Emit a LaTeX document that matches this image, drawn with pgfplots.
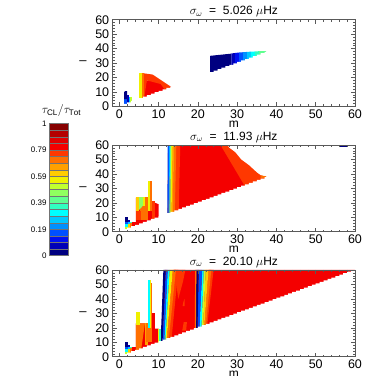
\documentclass[border=0pt]{standalone}
\usepackage{pgfplots}
\usepackage{pgfplotstable}
\usepackage{fontspec}
\setmainfont{Liberation Sans}
\pgfplotsset{compat=1.18}
\definecolor{c0}{HTML}{000080}\definecolor{c1}{HTML}{0000B8}\definecolor{c2}{HTML}{0010F0}\definecolor{c3}{HTML}{0050FF}
\definecolor{c4}{HTML}{0090FF}\definecolor{c5}{HTML}{00C8FF}\definecolor{c6}{HTML}{00FFFF}\definecolor{c7}{HTML}{30FFC0}
\definecolor{c8}{HTML}{60FF90}\definecolor{c9}{HTML}{90FF60}\definecolor{c10}{HTML}{C0FF30}\definecolor{c11}{HTML}{F0F000}
\definecolor{c12}{HTML}{FFCC00}\definecolor{c13}{HTML}{FFA000}\definecolor{c14}{HTML}{FF7000}\definecolor{c15}{HTML}{FF3800}
\definecolor{c16}{HTML}{F40000}\definecolor{c17}{HTML}{E00000}\definecolor{c18}{HTML}{B40000}\definecolor{c19}{HTML}{860000}
\newcommand\Q[2]{\addplot[fill=#1,draw=none] coordinates {#2} --cycle;}
\newcommand\B[2]{\addplot[fill=c#1,draw=black!55,line width=0.25pt] coordinates {#2} --cycle;}
\pgfplotstableread{
m y
1 1.8
2 2.8
3 3.8
4 4.8
5 5.8
6 6.8
7 7.8
8 8.8
9 9.8
10 10.8
11 11.8
12 12.8
13 13.8
14 14.8
15 15.8
16 16.8
17 17.8
18 18.8
19 19.8
20 20.8
21 21.8
22 22.8
23 23.8
24 24.8
25 25.8
26 26.8
27 27.8
28 28.8
29 29.8
30 30.8
31 31.8
32 32.8
33 33.8
34 34.8
35 35.8
36 36.8
37 37.8
38 38.8
39 39.8
40 40.8
41 41.8
42 42.8
43 43.8
44 44.8
45 45.8
46 46.8
47 47.8
48 48.8
49 49.8
50 50.8
51 51.8
52 52.8
53 53.8
54 54.8
55 55.8
56 56.8
57 57.8
58 58.8
59 59.8
60 60.8
}\stair
\newcommand\Stair{\addplot[const plot,fill=white,draw=none] table[x=m,y=y] {\stair} \closedcycle;}
\pgfplotsset{panel/.style={
  anchor=south west, scale only axis, width=242.3pt, height=86.7pt,
  xmin=-1.7, xmax=60, ymin=0, ymax=60,
  xtick={0,10,...,60}, ytick={0,10,...,60},
  minor x tick num=4, minor y tick num=4,
  axis on top, axis line style={black!65,line width=0.8pt},
  every tick/.style={black!65,line width=0.5pt},
  major tick length=4pt, minor tick length=2pt,
  tick align=inside, xtick pos=both, ytick pos=both,
  /pgf/number format/assume math mode=true,
  tick label style={font=\fontsize{12.5}{13}\selectfont},
  xticklabel pos=lower, yticklabel pos=left,
  xlabel={m}, xlabel style={font=\fontsize{12}{12}\selectfont,yshift=5pt},
  ylabel={--},
  every axis y label/.style={at={(axis description cs:-0.123,0.5)},anchor=center,font=\fontsize{13}{13}\selectfont},
  title style={font=\fontsize{12}{12}\selectfont,yshift=-7pt},
}}
\begin{document}
\begin{tikzpicture}[x=1pt,y=1pt]
\useasboundingbox (0,0) rectangle (374,376);

% Panel 1
\begin{axis}[panel,at={(112.7pt,269.6pt)},title={$\sigma_{\omega}$ \ =\ \ 5.026 $\mu$Hz}]
\Q{c3}{(1.2,0)(2,0)(2,5)(1.2,5)}
\Q{c0}{(1.2,5)(2,5)(2,10.5)(1.5,10.5)(1.2,10)}
\Q{c1}{(2,0)(2.5,0)(2.5,7.6)(2,7.6)}
\Q{c5}{(2.5,0)(2.75,0)(2.75,6.5)(2.5,6.5)}
\Q{c10}{(2.75,0)(3.1,0)(3.1,6.5)(2.75,6.5)}
\Q{c16}{(5.1,0)(13.2,13.5)(8.6,18)(6.2,18)}
\Q{c15}{(5.1,0)(6,23)(8.5,22)(13.2,13.5)(12,10)(10.5,15.5)(7,18)(6,0)}
\Q{c14}{(5.7,0)(6.3,0)(6.3,23)(5.7,23)}
\Q{c11}{(5.1,0)(5.7,0)(5.7,23)(5.1,23)}
\Q{c0}{(23.1,0)(28.5,0)(28.5,36.5)(23.1,35)}
\Q{c1}{(28.5,0)(29.5,0)(29.5,37)(28.5,36.6)}
\Q{c2}{(29.5,0)(30.5,0)(30.5,37.3)(29.5,37)}
\Q{c3}{(30.5,0)(31.5,0)(31.5,37.5)(30.5,37.3)}
\Q{c4}{(31.5,0)(32.5,0)(32.5,37.7)(31.5,37.5)}
\Q{c5}{(32.5,0)(33.5,0)(33.5,37.9)(32.5,37.7)}
\Q{c6}{(33.5,0)(34.5,0)(34.5,38)(33.5,37.9)}
\Q{c7}{(34.5,0)(35.5,0)(35.5,38.2)(34.5,38)}
\Q{c8}{(35.5,0)(37.4,0)(37.4,38.3)(35.5,38.2)}
\Stair
\end{axis}

% Panel 2
\begin{axis}[panel,at={(112.7pt,144.3pt)},title={$\sigma_{\omega}$ \ =\ \ 11.93 $\mu$Hz}]
\Q{c16}{(2,0)(4.2,0)(4.2,6.5)(2,6.5)}
\Q{c14}{(2,0)(3.2,0)(3.2,6.5)(2,6.5)}
\Q{c16}{(4.2,0)(10,0)(10,19)(8.2,21)(8.2,23.5)(4.2,23.5)}
\Q{c14}{(5.2,8)(7.2,8)(7.2,24)(5.2,24)}
\Q{c15}{(4.2,8)(5.5,8)(5.5,14)(4.2,14)}
\Q{c12}{(4.2,14)(5,14)(5,24)(4.2,24)}
\Q{c9}{(5,15)(6,18)(6,24)(5,24)}
\Q{c11}{(6,18)(6.4,18)(6.4,24)(6,24)}
\Q{c11}{(7.2,14)(7.7,14)(7.7,35)(7.2,35)}
\Q{c14}{(7.7,14)(8.2,14)(8.2,35)(7.7,35)}
\Q{c15}{(8.2,8)(9,8)(9,21)(8.2,21)}
\Q{c3}{(1.35,5)(2.1,5)(2.1,7)(1.35,7)}
\Q{c6}{(1.35,3.5)(2.1,3.5)(2.1,5)(1.35,5)}
\Q{c10}{(1.35,0)(2.1,0)(2.1,3.5)(1.35,3.5)}
\Q{c0}{(1.35,7)(2.1,7)(2.1,10.3)(1.35,10.3)}
\Q{c1}{(2.1,7)(2.7,7)(2.7,8)(2.1,8)}
\Q{c5}{(2.1,5)(2.7,5)(2.7,7)(2.1,7)}
\Q{c12}{(2.1,0)(2.7,0)(2.7,5)(2.1,5)}
\Q{c7}{(2.7,6)(3.2,6)(3.2,7)(2.7,7)}
% big region
\Q{c15}{(12.2,0)(42,0)(37.4,38)(36,39)(35,41)(33,46)(31,50)(29.5,55)(28,58)(27.5,60)(12.4,60)}
\Q{c16}{(12.2,0)(35,0)(31.6,33)(25.7,60)(15.5,60)(14.5,12)}
\Q{c14}{(36,37)(37.4,37)(37.4,38.3)(36,39)}
\Q{c15}{(14,0)(15,0)(15.5,60)(14.5,60)}
\Q{c14}{(13.5,0)(14,0)(14.5,60)(14,60)}
\Q{c13}{(13.2,0)(13.5,0)(14,60)(13.6,60)}
\Q{c11}{(12.9,0)(13.2,0)(13.6,60)(13.2,60)}
\Q{c8}{(12.7,0)(12.9,0)(13.2,60)(12.9,60)}
\Q{c5}{(12.5,0)(12.7,0)(12.9,60)(12.7,60)}
\Q{c3}{(12.2,0)(12.5,0)(12.7,60)(12.3,60)}
\Q{c0}{(56,58.5)(58.1,58.5)(58.1,60)(56,60)}
\Stair
\end{axis}

% Panel 3
\begin{axis}[panel,at={(112.7pt,19.3pt)},title={$\sigma_{\omega}$ \ =\ \ 20.10 $\mu$Hz}]
\Q{c16}{(11,0)(60,0)(60,60)(11.5,60)}
\Q{c15}{(14,60)(16.8,60)(16.2,52)(15,40)}
\Q{c15}{(16,18)(17,18)(17.2,24)(16.4,24)}
\Q{c15}{(16.1,35)(16.6,35)(16.6,40)(16.3,38)}
% second band
\Q{c15}{(21.8,20)(22.3,20)(24,60)(22.7,60)}
\Q{c14}{(21.6,20)(22,20)(23.4,60)(22.7,60)}
\Q{c12}{(21.3,20)(21.6,20)(22.7,60)(22,60)}
\Q{c10}{(20.9,20)(21.3,20)(22,60)(21.5,60)}
\Q{c6}{(20.4,20)(20.9,20)(21.5,60)(21.1,60)}
\Q{c3}{(19.9,20)(20.4,20)(21.1,60)(20.2,60)}
\Q{c0}{(19.5,20)(19.9,20)(20.2,60)(19.6,60)}
\Q{c14}{(19.2,20)(19.5,20)(19.6,60)(19.3,60)}
% first band
\Q{c15}{(12.3,10)(13.2,10)(15,60)(13.8,60)}
\Q{c14}{(12,10)(12.5,10)(14.4,60)(13.6,60)}
\Q{c11}{(11.7,10)(12,10)(13.6,60)(12.8,60)}
\Q{c6}{(11.4,10)(11.7,10)(12.8,60)(12.3,60)}
\Q{c3}{(11,10)(11.4,10)(12.3,60)(11.8,60)}
\Q{c0}{(10.5,10)(11,10)(11.8,60)(11.2,60)}
\Q{c16}{(2,0)(4.2,0)(4.2,6.5)(2,6.5)}
\Q{c14}{(2,0)(3.2,0)(3.2,6.5)(2,6.5)}
\Q{c16}{(4.2,0)(10,0)(10,19.5)(9,19.5)(9,30)(8.2,30)(8.2,23)(4.2,23)}
\Q{c14}{(4.2,4)(5.5,4)(6.5,23)(4.2,23)}
\Q{c13}{(6.5,8)(7.2,8)(7.2,23)(6.5,23)}
\Q{c11}{(4.2,22)(5.2,22)(5.2,31)(4.2,31)}
\Q{c14}{(6.8,10)(8.2,10)(8.2,23)(6.8,23)}
\Q{c6}{(7.2,20)(7.7,20)(7.7,53)(7.2,53)}
\Q{c11}{(7.7,20)(8,20)(8,53)(7.7,53)}
\Q{c14}{(8,20)(8.2,20)(8.2,51)(8,51)}
\Q{c16}{(8.2,8)(9,8)(9,30)(8.2,30)}
\Q{c11}{(9.8,0)(10.2,0)(10.2,19.5)(9.8,19.5)}
\Q{c7}{(10.2,0)(10.5,0)(10.5,19.5)(10.2,19.5)}
\Q{c3}{(1.35,5)(2.1,5)(2.1,7)(1.35,7)}
\Q{c6}{(1.35,3.5)(2.1,3.5)(2.1,5)(1.35,5)}
\Q{c10}{(1.35,0)(2.1,0)(2.1,3.5)(1.35,3.5)}
\Q{c0}{(1.35,7)(2.1,7)(2.1,10.3)(1.35,10.3)}
\Q{c1}{(2.1,7)(2.7,7)(2.7,8)(2.1,8)}
\Q{c5}{(2.1,5)(2.7,5)(2.7,7)(2.1,7)}
\Q{c12}{(2.1,0)(2.7,0)(2.7,5)(2.1,5)}
\Q{c7}{(2.7,6)(3.2,6)(3.2,7)(2.7,7)}
\Stair
\end{axis}

% Colour bar
\begin{axis}[anchor=south west,at={(49pt,120.3pt)},scale only axis,width=19pt,height=132.2pt,
  xmin=0,xmax=1,ymin=0,ymax=1,xtick=\empty,
  ytick={0,0.2,0.4,0.6,0.8,1},yticklabels={0,0.19,0.39,0.59,0.79,1},
  major tick length=0pt,
  axis on top,axis line style={black!55,line width=0.6pt},
  yticklabel style={font=\fontsize{8}{8}\selectfont,xshift=1pt},
  title={$\tau_{\mathrm{CL}}/\tau_{\mathrm{Tot}}$},title style={font=\fontsize{11.5}{12}\selectfont,yshift=-3pt,xshift=3pt},
]
\B{0}{(0,0)(1,0)(1,.05)(0,.05)}
\B{1}{(0,.05)(1,.05)(1,.1)(0,.1)}
\B{2}{(0,.1)(1,.1)(1,.15)(0,.15)}
\B{3}{(0,.15)(1,.15)(1,.2)(0,.2)}
\B{4}{(0,.2)(1,.2)(1,.25)(0,.25)}
\B{5}{(0,.25)(1,.25)(1,.3)(0,.3)}
\B{6}{(0,.3)(1,.3)(1,.35)(0,.35)}
\B{7}{(0,.35)(1,.35)(1,.4)(0,.4)}
\B{8}{(0,.4)(1,.4)(1,.45)(0,.45)}
\B{9}{(0,.45)(1,.45)(1,.5)(0,.5)}
\B{10}{(0,.5)(1,.5)(1,.55)(0,.55)}
\B{11}{(0,.55)(1,.55)(1,.6)(0,.6)}
\B{12}{(0,.6)(1,.6)(1,.65)(0,.65)}
\B{13}{(0,.65)(1,.65)(1,.7)(0,.7)}
\B{14}{(0,.7)(1,.7)(1,.75)(0,.75)}
\B{15}{(0,.75)(1,.75)(1,.8)(0,.8)}
\B{16}{(0,.8)(1,.8)(1,.85)(0,.85)}
\B{17}{(0,.85)(1,.85)(1,.9)(0,.9)}
\B{18}{(0,.9)(1,.9)(1,.95)(0,.95)}
\B{19}{(0,.95)(1,.95)(1,1)(0,1)}
\end{axis}
\end{tikzpicture}
\end{document}
